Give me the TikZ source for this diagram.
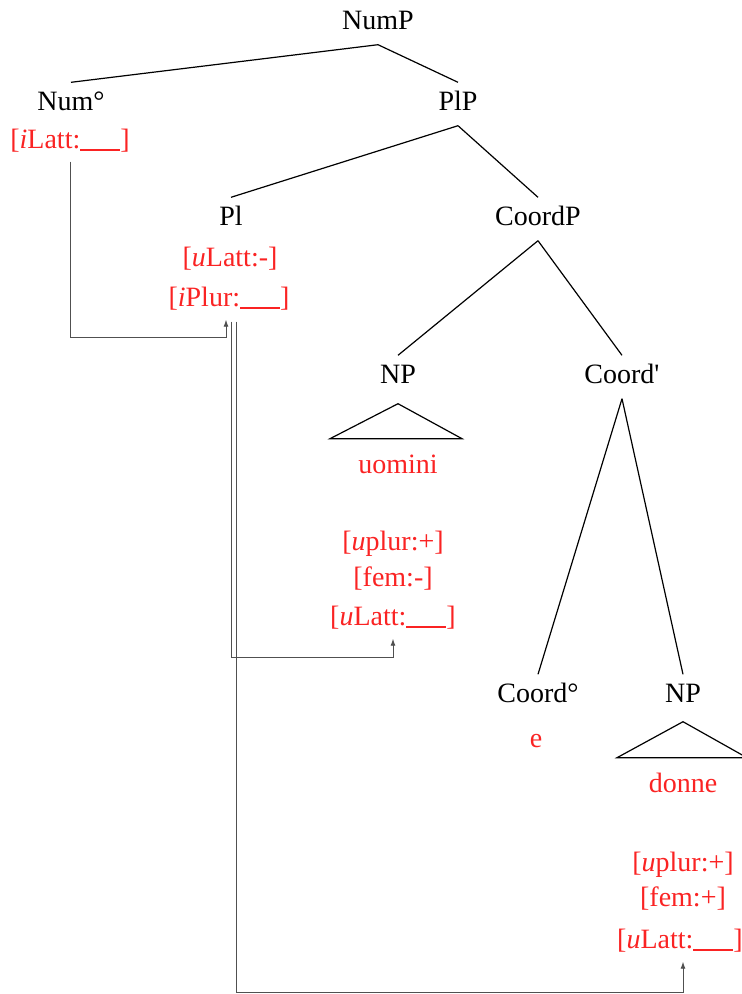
\documentclass[tikz,border=0pt]{standalone}
\usepackage{fontspec}
\setmainfont{Liberation Serif}[Ligatures=TeXOff]
\usetikzlibrary{arrows.meta,calc}
\definecolor{featred}{RGB}{250,35,35}
\definecolor{conngray}{RGB}{80,80,80}
\newcommand{\blankline}{\rule[-2pt]{40pt}{1.3pt}}
\begin{document}
\begin{tikzpicture}[x=1pt,y=-1pt,
  every node/.style={font=\fontsize{28}{30}\selectfont},
  cat/.style={inner xsep=2pt, inner ysep=10pt, text height=18pt, text depth=5pt},
  feat/.style={text=featred, inner xsep=0pt, inner ysep=7pt, text height=19pt, text depth=6pt},
  branch/.style={draw=black, line width=1.2pt},
  conn/.style={draw=conngray, line width=0.9pt},
  tip/.style={-{Latex[length=7pt,width=5pt]}}]
\useasboundingbox (0,0) rectangle (742,994);

% categories
\node[cat] (nump) at (378,23) {NumP};
\node[cat] (num) at (71,104) {Num°};
\node[cat] (plp) at (458,104) {PlP};
\node[cat] (pl) at (231,219) {Pl};
\node[cat] (coordp) at (538,219) {CoordP};
\node[cat] (np1) at (398,377) {NP};
\node[cat] (coordbar) at (622,377) {Coord'};
\node[cat] (coord0) at (538,696) {Coord°};
\node[cat] (np2) at (683,696) {NP};

% features and words
\node[feat] (numf) at (70,142) {[\textit{i}Latt:\blankline]};
\node[feat] (plf1) at (230,260) {[\textit{u}Latt:-]};
\node[feat] (plf2) at (229,300) {[\textit{i}Plur:\blankline]};
\node[feat] (w1) at (398,467) {uomini};
\node[feat] (f11) at (393,544) {[\textit{u}plur:+]};
\node[feat] (f12) at (393,580) {[fem:-]};
\node[feat] (f13) at (393,619) {[\textit{u}Latt:\blankline]};
\node[feat] (e) at (536,741) {e};
\node[feat] (w2) at (683,786) {donne};
\node[feat] (f21) at (683,865) {[\textit{u}plur:+]};
\node[feat] (f22) at (683,900) {[fem:+]};
\node[feat] (f23) at (680,942) {[\textit{u}Latt:\blankline]};

% tree branches
\draw[branch] (nump.south) -- (num.north);
\draw[branch] (nump.south) -- (plp.north);
\draw[branch] (plp.south) -- (pl.north);
\draw[branch] (plp.south) -- (coordp.north);
\draw[branch] (coordp.south) -- (np1.north);
\draw[branch] (coordp.south) -- (coordbar.north);
\draw[branch] (coordbar.south) -- (coord0.north);
\draw[branch] (coordbar.south) -- (np2.north);

% triangles
\draw[branch] ($(np1.south)+(0,5)$) -- ++(-68,35) -- ++(132,0) -- cycle;
\draw[branch] ($(np2.south)+(0,4)$) -- ++(-66,36) -- ++(130,0) -- cycle;

% agreement connectors
\coordinate (lvl1) at (0,337);
\coordinate (lvl2) at (0,657);
\coordinate (lvl3) at (0,992);
\coordinate (s1) at ($(plf2.south)+(-3,0)$);
\coordinate (s2) at ($(plf2.south)+(2,2)$);
\coordinate (s3) at ($(plf2.south)+(7,2)$);
\coordinate (t3) at ($(f23.south)+(3,0)$);
\draw[conn,tip] (numf.south) |- (s1 |- lvl1) -- (s1);
\draw[conn,tip] (s2) |- (f13.south |- lvl2) -- (f13.south);
\draw[conn,tip] (s3) |- (t3 |- lvl3) -- (t3);
\end{tikzpicture}
\end{document}
